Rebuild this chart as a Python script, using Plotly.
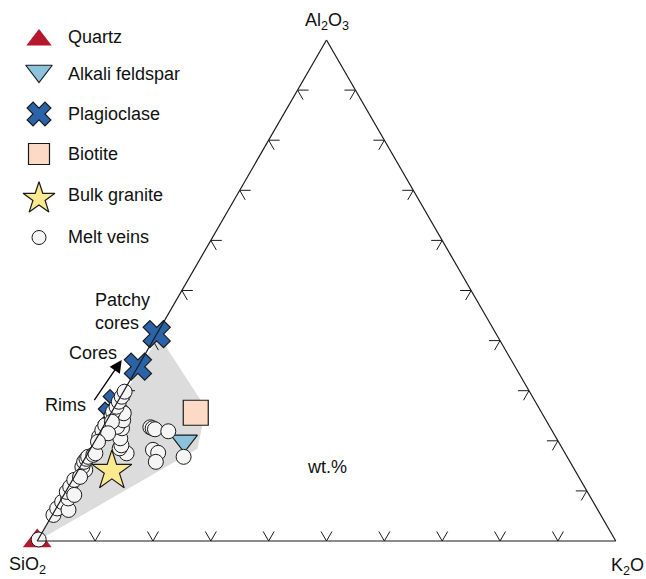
import plotly.graph_objects as go

W, H = 646, 579

# ---------------- data (wt.%, normalised to Al2O3 + SiO2 + K2O = 100) ----------------
quartz_al = [0.0]
quartz_si = [100.0]
quartz_k = [0.0]

afs_al = [20.0]
afs_si = [64.6]
afs_k = [15.4]

plag_groups = ["Patchy cores", "Cores", "Rims", "Rims"]
plag_al = [41.3, 34.8, 27.5, 25.0]
plag_si = [58.7, 65.2, 72.5, 74.6]
plag_k = [0.0, 0.0, 0.0, 0.4]

bt_al = [25.6]
bt_si = [59.8]
bt_k = [14.6]

bulk_al = [14.0]
bulk_si = [80.1]
bulk_k = [5.9]

melt_al = [0.3, 5.2, 6.5, 7.8, 6.2, 8.5, 9.8, 10.8, 12.2, 14.2, 14.8, 15.8, 16.4, 16.8,
           17.2, 17.5, 17.5, 18.5, 19.1, 20.5, 20.8, 22.1, 23.1, 22.5, 22.8, 24.1, 25.5,
           25.1, 25.8, 26.8, 27.8, 28.8, 29.8, 22.7, 22.5, 22.3, 21.9, 18.2, 17.6, 15.8, 16.8,
           23.8, 21.5, 19.8, 9.2, 12.8]
melt_k = [0.1, 0.2, 0.2, 0.4, 2.3, 1.1, 0.2, 0.3, 0.3, 1.2, 0.4, 0.2, 0.3, 0.4,
          1.1, 1.3, 6.7, 5.0, 5.0, 4.1, 0.3, 0.2, 0.2, 3.4, 2.4, 2.8, 2.2,
          0.3, 0.2, 0.3, 0.2, 0.2, 0.2, 8.2, 8.7, 9.2, 11.7, 10.9, 12.1, 12.6, 16.9,
          1.0, 1.5, 0.6, 1.8, 1.0]
melt_si = [99.6, 94.6, 93.3, 91.8, 91.5, 90.4, 90.0, 88.9, 87.5, 84.6, 84.8, 84.0, 83.3, 82.8,
           81.7, 81.2, 75.8, 76.5, 75.9, 75.4, 78.9, 77.7, 76.7, 74.1, 74.8, 73.1, 72.3,
           74.6, 74.0, 72.9, 72.0, 71.0, 70.0, 69.1, 68.8, 68.5, 66.4, 70.9, 70.3, 71.6, 66.3,
           75.2, 77.0, 79.6, 89.0, 86.2]

# shaded field
field_al = [0.0, 40.9, 26.5, 18.4, 0.0]
field_si = [100.0, 58.5, 57.6, 63.1, 100.0]
field_k = [0.0, 0.6, 15.9, 18.5, 0.0]

tick_values = [10, 20, 30, 40, 50, 60, 70, 80, 90]

legend_names = ["Quartz", "Alkali feldspar", "Plagioclase", "Biotite", "Bulk granite", "Melt veins"]

# ---------------- styles ----------------
FONT = "Liberation Sans, Arial, Helvetica, sans-serif"
EDGE = "#1a1a1a"
C_QTZ = "#b5172e"
C_AFS = "#8cc3dc"
C_PL = "#2b63a8"
C_BT = "#fddac6"
C_BULK = "#fbe98f"
C_MELT = "#f5f5f5"
C_FIELD = "#dcdcdc"

fig = go.Figure()

# shaded field
fig.add_trace(go.Scatterternary(
    a=field_al, b=field_si, c=field_k, mode="lines", fill="toself",
    fillcolor=C_FIELD, line=dict(width=0, color=C_FIELD), hoverinfo="skip", showlegend=False))

# chevron ticks built from tick values
tl = 1.9
ta, tb, tc = [], [], []
for v in tick_values:
    for p in [(tl, 100 - v, v - tl), (0, 100 - v, v), (tl, 100 - v - tl, v)]:
        ta.append(p[0]); tb.append(p[1]); tc.append(p[2])
    ta.append(None); tb.append(None); tc.append(None)
    for p in [(v, 100 - v - tl, tl), (v, 100 - v, 0), (v - tl, 100 - v, tl)]:
        ta.append(p[0]); tb.append(p[1]); tc.append(p[2])
    ta.append(None); tb.append(None); tc.append(None)
    for p in [(v, tl, 100 - v - tl), (v, 0, 100 - v), (v - tl, tl, 100 - v)]:
        ta.append(p[0]); tb.append(p[1]); tc.append(p[2])
    ta.append(None); tb.append(None); tc.append(None)
fig.add_trace(go.Scatterternary(
    a=ta, b=tb, c=tc, mode="lines", line=dict(color=EDGE, width=1),
    hoverinfo="skip", showlegend=False, connectgaps=False))

mline = dict(color=EDGE, width=1.2)

fig.add_trace(go.Scatterternary(
    a=quartz_al, b=quartz_si, c=quartz_k, mode="markers", name="Quartz", cliponaxis=False,
    marker=dict(symbol="triangle-up", size=25, color=C_QTZ, line=dict(width=0)),
    showlegend=False))
fig.add_trace(go.Scatterternary(
    a=afs_al, b=afs_si, c=afs_k, mode="markers", name="Alkali feldspar", cliponaxis=False,
    marker=dict(symbol="triangle-down", size=23, color=C_AFS, line=mline),
    showlegend=False))
fig.add_trace(go.Scatterternary(
    a=plag_al, b=plag_si, c=plag_k, mode="markers", name="Plagioclase", text=plag_groups,
    cliponaxis=False,
    marker=dict(symbol="x", size=24, color=C_PL, line=mline),
    showlegend=False))
fig.add_trace(go.Scatterternary(
    a=bt_al, b=bt_si, c=bt_k, mode="markers", name="Biotite", cliponaxis=False,
    marker=dict(symbol="square", size=25, color=C_BT, line=mline),
    showlegend=False))
fig.add_trace(go.Scatterternary(
    a=melt_al, b=melt_si, c=melt_k, mode="markers", name="Melt veins", cliponaxis=False,
    marker=dict(symbol="circle", size=15, color=C_MELT, line=dict(color=EDGE, width=1)),
    showlegend=False))
fig.add_trace(go.Scatterternary(
    a=bulk_al, b=bulk_si, c=bulk_k, mode="markers", name="Bulk granite", cliponaxis=False,
    marker=dict(symbol="star", size=30, color=C_BULK, line=mline),
    showlegend=False))

# ---------------- hand-made legend on a hidden pixel-scaled cartesian layer ----------------
leg_sym = ["triangle-up", "triangle-down", "x", "square", "star", "circle"]
leg_col = [C_QTZ, C_AFS, C_PL, C_BT, C_BULK, C_MELT]
leg_size = [22, 23, 21, 21, 24, 14]
leg_my = [40, 71, 114, 154, 198.5, 237.5]
leg_ty = [37, 74, 114, 154, 195, 237]
for i, nm in enumerate(legend_names):
    lw = 0 if i == 0 else (1 if i == 5 else 1.2)
    fig.add_trace(go.Scatter(
        x=[39], y=[leg_my[i]], mode="markers", name=nm, xaxis="x", yaxis="y",
        cliponaxis=False,
        marker=dict(symbol=leg_sym[i], size=leg_size[i], color=leg_col[i],
                    line=dict(color=EDGE, width=lw)),
        hoverinfo="skip", showlegend=False))

ann = []
for i, nm in enumerate(legend_names):
    ann.append(dict(x=66, y=leg_ty[i], xref="x", yref="y", text=nm, showarrow=False,
                    xanchor="left", yanchor="middle", font=dict(size=18)))

ann += [
    dict(x=326.5, y=21, text="Al<sub>2</sub>O<sub>3</sub>", xanchor="center"),
    dict(x=27, y=565, text="SiO<sub>2</sub>", xanchor="center"),
    dict(x=627, y=566, text="K<sub>2</sub>O", xanchor="center"),
    dict(x=327, y=467, text="wt.%", xanchor="center"),
    dict(x=93, y=311.5, text="Patchy<br>cores", xanchor="left", align="left"),
    dict(x=119, y=353, text="Cores", xanchor="right"),
    dict(x=88, y=405, text="Rims", xanchor="right"),
]
for a_ in ann[len(legend_names):]:
    a_.update(xref="x", yref="y", showarrow=False, yanchor="middle", font=dict(size=18))

ann.append(dict(x=121.7, y=360, ax=93.3, ay=401.7, xref="x", yref="y", axref="x", ayref="y",
                text="", showarrow=True, arrowhead=2, arrowsize=1.9, arrowwidth=1.3,
                arrowcolor="#000000", standoff=0, startstandoff=0))

axis_common = dict(title=dict(text=""), showticklabels=False, ticks="", showgrid=False,
                   showline=True, linecolor=EDGE, linewidth=1.2, min=0)

fig.update_layout(
    width=W, height=H,
    margin=dict(l=0, r=0, t=0, b=0),
    paper_bgcolor="white", plot_bgcolor="rgba(0,0,0,0)",
    font=dict(family=FONT, size=18, color="#111111"),
    showlegend=False,
    ternary=dict(
        sum=100,
        domain=dict(x=[37 / W, 616 / W], y=[1 - 541 / H, 1 - 40 / H]),
        bgcolor="rgba(0,0,0,0)",
        aaxis=axis_common, baxis=axis_common, caxis=axis_common,
    ),
    xaxis=dict(range=[0, W], domain=[0, 1], visible=False, fixedrange=True),
    yaxis=dict(range=[H, 0], domain=[0, 1], visible=False, fixedrange=True),
    annotations=ann,
    hovermode=False,
)

fig.write_html("out.html")
